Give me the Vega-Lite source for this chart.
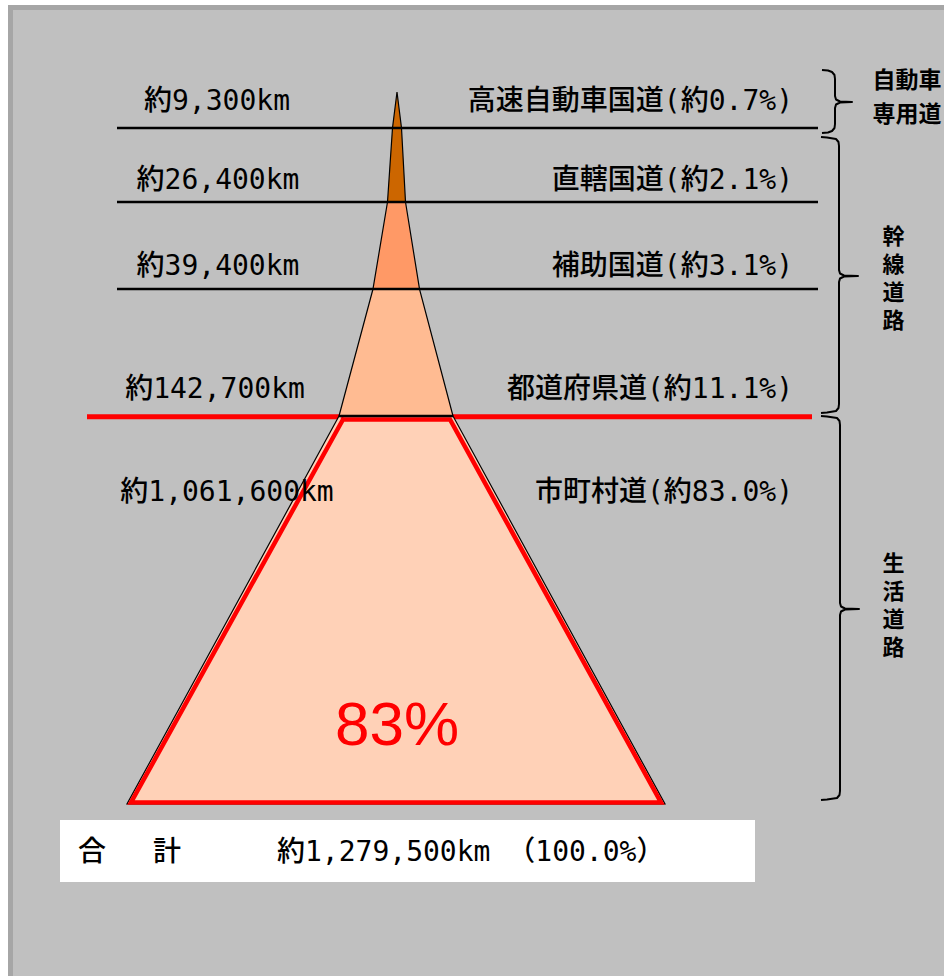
{
  "$schema": "https://vega.github.io/schema/vega-lite/v6.json",
  "width": 944,
  "height": 976,
  "autosize": {"type": "none"},
  "padding": 0,
  "background": "white",
  "config": {"view": {"stroke": null}},
  "resolve": {"scale": {"fill": "independent"}},
  "datasets": {
    "frame": [
      {"part": "edge", "x0": 8, "x1": 944, "y0": 5, "y1": 976},
      {"part": "face", "x0": 13, "x1": 944, "y0": 10, "y1": 976}
    ],
    "pyramid": [
      {"road": "高速自動車国道", "y": 92, "xl": 397, "xr": 397},
      {"road": "高速自動車国道", "y": 128, "xl": 392.5, "xr": 401.5},
      {"road": "直轄国道", "y": 128, "xl": 392.5, "xr": 401.5},
      {"road": "直轄国道", "y": 202, "xl": 387.5, "xr": 405.5},
      {"road": "補助国道", "y": 202, "xl": 387.5, "xr": 405.5},
      {"road": "補助国道", "y": 289, "xl": 373, "xr": 419.5},
      {"road": "都道府県道", "y": 289, "xl": 373, "xr": 419.5},
      {"road": "都道府県道", "y": 416, "xl": 339, "xr": 453},
      {"road": "市町村道", "y": 416, "xl": 339, "xr": 453},
      {"road": "市町村道", "y": 804, "xl": 127, "xr": 665}
    ],
    "localOutline": [
      {"i": 1, "x": 343, "y": 419.5},
      {"i": 2, "x": 450, "y": 419.5},
      {"i": 3, "x": 661, "y": 802.5},
      {"i": 4, "x": 131, "y": 802.5},
      {"i": 5, "x": 343, "y": 419.5}
    ],
    "boundaries": [
      {"y": 128, "from": 117, "to": 818},
      {"y": 202, "from": 117, "to": 818},
      {"y": 289, "from": 117, "to": 818},
      {"y": 416, "from": 339, "to": 453}
    ],
    "arterialLimit": [
      {"y": 416.8, "from": 87, "to": 812}
    ],
    "braces": [
      {"brace": "自動車専用道", "i": 1, "x": 822, "y": 70},
      {"brace": "自動車専用道", "i": 2, "x": 828, "y": 70.5},
      {"brace": "自動車専用道", "i": 3, "x": 832, "y": 72},
      {"brace": "自動車専用道", "i": 4, "x": 834.5, "y": 75},
      {"brace": "自動車専用道", "i": 5, "x": 835, "y": 79},
      {"brace": "自動車専用道", "i": 6, "x": 835, "y": 96},
      {"brace": "自動車専用道", "i": 7, "x": 836, "y": 99.5},
      {"brace": "自動車専用道", "i": 8, "x": 840, "y": 101.5},
      {"brace": "自動車専用道", "i": 9, "x": 852, "y": 102},
      {"brace": "自動車専用道", "i": 10, "x": 840, "y": 102.5},
      {"brace": "自動車専用道", "i": 11, "x": 836, "y": 104.5},
      {"brace": "自動車専用道", "i": 12, "x": 835, "y": 108},
      {"brace": "自動車専用道", "i": 13, "x": 835, "y": 124},
      {"brace": "自動車専用道", "i": 14, "x": 834.5, "y": 128},
      {"brace": "自動車専用道", "i": 15, "x": 832, "y": 131},
      {"brace": "自動車専用道", "i": 16, "x": 828, "y": 132.5},
      {"brace": "自動車専用道", "i": 17, "x": 822, "y": 133},
      {"brace": "幹線道路", "i": 1, "x": 821, "y": 137},
      {"brace": "幹線道路", "i": 2, "x": 827, "y": 137.5},
      {"brace": "幹線道路", "i": 3, "x": 836, "y": 139},
      {"brace": "幹線道路", "i": 4, "x": 838.5, "y": 142},
      {"brace": "幹線道路", "i": 5, "x": 839, "y": 146},
      {"brace": "幹線道路", "i": 6, "x": 839, "y": 270},
      {"brace": "幹線道路", "i": 7, "x": 840, "y": 273.5},
      {"brace": "幹線道路", "i": 8, "x": 844, "y": 275.5},
      {"brace": "幹線道路", "i": 9, "x": 858, "y": 276},
      {"brace": "幹線道路", "i": 10, "x": 844, "y": 276.5},
      {"brace": "幹線道路", "i": 11, "x": 840, "y": 278.5},
      {"brace": "幹線道路", "i": 12, "x": 839, "y": 282},
      {"brace": "幹線道路", "i": 13, "x": 839, "y": 404},
      {"brace": "幹線道路", "i": 14, "x": 838.5, "y": 408},
      {"brace": "幹線道路", "i": 15, "x": 836, "y": 411},
      {"brace": "幹線道路", "i": 16, "x": 827, "y": 412.5},
      {"brace": "幹線道路", "i": 17, "x": 821, "y": 413},
      {"brace": "生活道路", "i": 1, "x": 821, "y": 416},
      {"brace": "生活道路", "i": 2, "x": 827, "y": 416.5},
      {"brace": "生活道路", "i": 3, "x": 837, "y": 418},
      {"brace": "生活道路", "i": 4, "x": 839.5, "y": 421},
      {"brace": "生活道路", "i": 5, "x": 840, "y": 425},
      {"brace": "生活道路", "i": 6, "x": 840, "y": 603},
      {"brace": "生活道路", "i": 7, "x": 841, "y": 606.5},
      {"brace": "生活道路", "i": 8, "x": 845, "y": 608.5},
      {"brace": "生活道路", "i": 9, "x": 859, "y": 609},
      {"brace": "生活道路", "i": 10, "x": 845, "y": 609.5},
      {"brace": "生活道路", "i": 11, "x": 841, "y": 611.5},
      {"brace": "生活道路", "i": 12, "x": 840, "y": 615},
      {"brace": "生活道路", "i": 13, "x": 840, "y": 791},
      {"brace": "生活道路", "i": 14, "x": 839.5, "y": 795},
      {"brace": "生活道路", "i": 15, "x": 837, "y": 798},
      {"brace": "生活道路", "i": 16, "x": 827, "y": 799.5},
      {"brace": "生活道路", "i": 17, "x": 821, "y": 800}
    ],
    "levels": [
      {"road": "高速自動車国道", "km": "約9,300km", "label": "高速自動車国道(約0.7%)", "y": 102, "x": 217},
      {"road": "直轄国道", "km": "約26,400km", "label": "直轄国道(約2.1%)", "y": 181, "x": 218},
      {"road": "補助国道", "km": "約39,400km", "label": "補助国道(約3.1%)", "y": 267, "x": 218},
      {"road": "都道府県道", "km": "約142,700km", "label": "都道府県道(約11.1%)", "y": 390, "x": 215},
      {"road": "市町村道", "km": "約1,061,600km", "label": "市町村道(約83.0%)", "y": 493, "x": 227}
    ],
    "groups": [
      {"group": "幹線道路", "char": "幹", "x": 893.5, "y": 237},
      {"group": "幹線道路", "char": "線", "x": 893.5, "y": 265},
      {"group": "幹線道路", "char": "道", "x": 893.5, "y": 293},
      {"group": "幹線道路", "char": "路", "x": 893.5, "y": 321},
      {"group": "生活道路", "char": "生", "x": 893.5, "y": 564},
      {"group": "生活道路", "char": "活", "x": 893.5, "y": 592},
      {"group": "生活道路", "char": "道", "x": 893.5, "y": 620},
      {"group": "生活道路", "char": "路", "x": 893.5, "y": 648}
    ],
    "expressway": [
      {"line": "自動車", "x": 907, "y": 81},
      {"line": "専用道", "x": 907, "y": 115}
    ],
    "totalBox": [
      {"x0": 60, "x1": 755, "y0": 820, "y1": 882}
    ],
    "total": [
      {"t": "合", "x": 78, "y": 853},
      {"t": "計", "x": 153, "y": 853},
      {"t": "約1,279,500km （100.0%）", "x": 277, "y": 853}
    ],
    "share": [
      {"t": "83%", "x": 397, "y": 726}
    ]
  },
  "layer": [
    {
      "data": {"name": "frame"},
      "mark": {"type": "rect"},
      "encoding": {
        "x": {"field": "x0", "type": "quantitative", "scale": {"domain": [0, 944], "nice": false, "zero": false}, "axis": null},
        "x2": {"field": "x1"},
        "y": {"field": "y0", "type": "quantitative", "scale": {"domain": [0, 976], "nice": false, "zero": false, "reverse": true}, "axis": null},
        "y2": {"field": "y1"},
        "fill": {"field": "part", "type": "nominal", "scale": {"domain": ["edge", "face"], "range": ["#a6a6a6", "#c0c0c0"]}, "legend": null}
      }
    },
    {
      "data": {"name": "arterialLimit"},
      "mark": {"type": "rule", "color": "#ff0000", "strokeWidth": 5},
      "encoding": {
        "x": {"field": "from", "type": "quantitative", "scale": {"domain": [0, 944], "nice": false, "zero": false}, "axis": null},
        "x2": {"field": "to"},
        "y": {"field": "y", "type": "quantitative", "scale": {"domain": [0, 976], "nice": false, "zero": false, "reverse": true}, "axis": null}
      }
    },
    {
      "data": {"name": "pyramid"},
      "mark": {"type": "area", "orient": "horizontal", "stroke": "#000000", "strokeWidth": 1.2, "opacity": 1},
      "encoding": {
        "y": {"field": "y", "type": "quantitative", "scale": {"domain": [0, 976], "nice": false, "zero": false, "reverse": true}, "axis": null},
        "x": {"field": "xl", "type": "quantitative", "stack": null, "scale": {"domain": [0, 944], "nice": false, "zero": false}, "axis": null},
        "x2": {"field": "xr"},
        "fill": {
          "field": "road", "type": "nominal",
          "scale": {
            "domain": ["高速自動車国道", "直轄国道", "補助国道", "都道府県道", "市町村道"],
            "range": ["#cc6600", "#cc6600", "#ff9966", "#ffbb92", "#ffd1b7"]
          },
          "legend": null
        }
      }
    },
    {
      "data": {"name": "localOutline"},
      "mark": {"type": "line", "color": "#ff0000", "strokeWidth": 4.5, "strokeJoin": "miter", "strokeCap": "square"},
      "encoding": {
        "x": {"field": "x", "type": "quantitative", "scale": {"domain": [0, 944], "nice": false, "zero": false}, "axis": null},
        "y": {"field": "y", "type": "quantitative", "scale": {"domain": [0, 976], "nice": false, "zero": false, "reverse": true}, "axis": null},
        "order": {"field": "i", "type": "quantitative"}
      }
    },
    {
      "data": {"name": "boundaries"},
      "mark": {"type": "rule", "color": "#000000", "strokeWidth": 2.5},
      "encoding": {
        "x": {"field": "from", "type": "quantitative", "scale": {"domain": [0, 944], "nice": false, "zero": false}, "axis": null},
        "x2": {"field": "to"},
        "y": {"field": "y", "type": "quantitative", "scale": {"domain": [0, 976], "nice": false, "zero": false, "reverse": true}, "axis": null}
      }
    },
    {
      "data": {"name": "braces"},
      "mark": {"type": "line", "color": "#000000", "strokeWidth": 2, "strokeJoin": "round"},
      "encoding": {
        "x": {"field": "x", "type": "quantitative", "scale": {"domain": [0, 944], "nice": false, "zero": false}, "axis": null},
        "y": {"field": "y", "type": "quantitative", "scale": {"domain": [0, 976], "nice": false, "zero": false, "reverse": true}, "axis": null},
        "detail": {"field": "brace", "type": "nominal"},
        "order": {"field": "i", "type": "quantitative"}
      }
    },
    {
      "data": {"name": "totalBox"},
      "mark": {"type": "rect", "fill": "#ffffff"},
      "encoding": {
        "x": {"field": "x0", "type": "quantitative", "scale": {"domain": [0, 944], "nice": false, "zero": false}, "axis": null},
        "x2": {"field": "x1"},
        "y": {"field": "y0", "type": "quantitative", "scale": {"domain": [0, 976], "nice": false, "zero": false, "reverse": true}, "axis": null},
        "y2": {"field": "y1"}
      }
    },
    {
      "data": {"name": "levels"},
      "mark": {"type": "text", "align": "center", "baseline": "middle", "font": "DejaVu Sans Mono, Noto Sans CJK JP", "fontSize": 28, "fontWeight": 500, "color": "#000000"},
      "encoding": {
        "x": {"field": "x", "type": "quantitative", "scale": {"domain": [0, 944], "nice": false, "zero": false}, "axis": null},
        "y": {"field": "y", "type": "quantitative", "scale": {"domain": [0, 976], "nice": false, "zero": false, "reverse": true}, "axis": null},
        "text": {"field": "km"}
      }
    },
    {
      "data": {"name": "levels"},
      "mark": {"type": "text", "align": "right", "baseline": "middle", "font": "DejaVu Sans Mono, Noto Sans CJK JP", "fontSize": 28, "fontWeight": 500, "color": "#000000"},
      "encoding": {
        "x": {"datum": 793, "type": "quantitative", "scale": {"domain": [0, 944], "nice": false, "zero": false}, "axis": null},
        "y": {"field": "y", "type": "quantitative", "scale": {"domain": [0, 976], "nice": false, "zero": false, "reverse": true}, "axis": null},
        "text": {"field": "label"}
      }
    },
    {
      "data": {"name": "groups"},
      "mark": {"type": "text", "align": "center", "baseline": "middle", "font": "Noto Sans CJK JP", "fontSize": 22, "fontWeight": "bold", "color": "#000000"},
      "encoding": {
        "x": {"field": "x", "type": "quantitative", "scale": {"domain": [0, 944], "nice": false, "zero": false}, "axis": null},
        "y": {"field": "y", "type": "quantitative", "scale": {"domain": [0, 976], "nice": false, "zero": false, "reverse": true}, "axis": null},
        "text": {"field": "char"}
      }
    },
    {
      "data": {"name": "expressway"},
      "mark": {"type": "text", "align": "center", "baseline": "middle", "font": "Noto Sans CJK JP", "fontSize": 23, "fontWeight": "bold", "color": "#000000"},
      "encoding": {
        "x": {"field": "x", "type": "quantitative", "scale": {"domain": [0, 944], "nice": false, "zero": false}, "axis": null},
        "y": {"field": "y", "type": "quantitative", "scale": {"domain": [0, 976], "nice": false, "zero": false, "reverse": true}, "axis": null},
        "text": {"field": "line"}
      }
    },
    {
      "data": {"name": "total"},
      "mark": {"type": "text", "align": "left", "baseline": "middle", "font": "DejaVu Sans Mono, Noto Sans CJK JP", "fontSize": 28, "fontWeight": 500, "color": "#000000"},
      "encoding": {
        "x": {"field": "x", "type": "quantitative", "scale": {"domain": [0, 944], "nice": false, "zero": false}, "axis": null},
        "y": {"field": "y", "type": "quantitative", "scale": {"domain": [0, 976], "nice": false, "zero": false, "reverse": true}, "axis": null},
        "text": {"field": "t"}
      }
    },
    {
      "data": {"name": "share"},
      "mark": {"type": "text", "align": "center", "baseline": "middle", "font": "Liberation Sans", "fontSize": 62, "color": "#ff0000"},
      "encoding": {
        "x": {"field": "x", "type": "quantitative", "scale": {"domain": [0, 944], "nice": false, "zero": false}, "axis": null},
        "y": {"field": "y", "type": "quantitative", "scale": {"domain": [0, 976], "nice": false, "zero": false, "reverse": true}, "axis": null},
        "text": {"field": "t"}
      }
    }
  ]
}
